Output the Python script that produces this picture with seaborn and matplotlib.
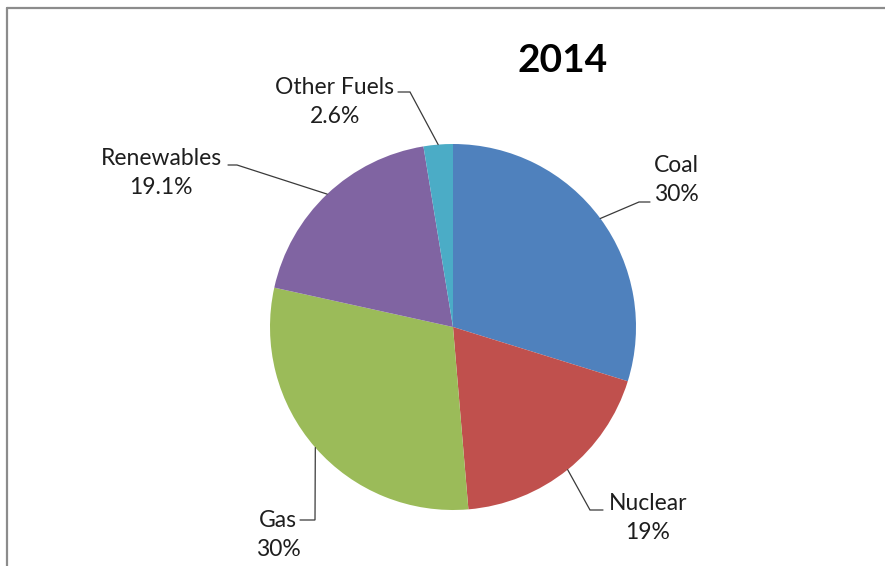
import matplotlib
matplotlib.use('Agg')
import numpy as np
import seaborn as sns
import matplotlib.pyplot as plt
from matplotlib.lines import Line2D

# dados do gráfico
fontes = ['Coal', 'Nuclear', 'Gas', 'Renewables', 'Other Fuels']
percentuais = [30, 19, 30, 19.1, 2.6]
rotulos_pct = ['30%', '19%', '30%', '19.1%', '2.6%']
cores = ['#4F81BD', '#C0504D', '#9BBB59', '#8064A2', '#4BACC6']
titulo = '2014'

# layout em pixels (centro do texto, ponta do traço horizontal, cotovelo)
texto_px = [(676, 180), (648, 518), (278, 535), (161, 173), (335, 102)]
inicio_px = [(650, 202), (603, 510), (300, 520), (228, 165), (398, 92)]
cotovelo_px = [(639, 202), (590, 510), (315, 520), (237, 165), (410, 92)]

sns.set_theme(style='white')
plt.rcParams['font.family'] = ['Lato', 'DejaVu Sans']

W, H = 885, 566
CX, CY, R = 453, 327, 183

fig = plt.figure(figsize=(W / 100, H / 100), dpi=100)
ax = fig.add_axes([0, 0, 1, 1])

wedges, _ = ax.pie(percentuais, colors=sns.color_palette(cores), startangle=90,
                   counterclock=False, radius=1, wedgeprops=dict(linewidth=0))

ax.set_xlim(-CX / R, (W - CX) / R)
ax.set_ylim(-(H - CY) / R, CY / R)
ax.set_aspect('auto')
ax.axis('off')


def px(p):
    return ((p[0] - CX) / R, (CY - p[1]) / R)


# rótulos com linhas de chamada
for w, nome, pct, t, s, c in zip(wedges, fontes, rotulos_pct, texto_px, inicio_px, cotovelo_px):
    ang = np.deg2rad((w.theta1 + w.theta2) / 2)
    ancora = (np.cos(ang), np.sin(ang))
    p1, p2 = px(s), px(c)
    ax.plot([p1[0], p2[0], ancora[0]], [p1[1], p2[1], ancora[1]],
            color='#3a3a3a', lw=0.9, solid_joinstyle='miter')
    tx, ty = px(t)
    ax.text(tx, ty, f'{nome}\n{pct}', ha='center', va='center',
            fontsize=16.5, color='#1e1e1e', linespacing=1.5)

ax.text(*px((563, 60)), titulo, ha='center', va='center',
        fontsize=28, fontweight='bold', color='black')

# moldura (apenas topo e esquerda visíveis)
fig.add_artist(Line2D([7 / W, 1], [1 - 8 / H, 1 - 8 / H], color='#8c8c8c', lw=1.6,
                      transform=fig.transFigure))
fig.add_artist(Line2D([7 / W, 7 / W], [0, 1 - 8 / H], color='#8c8c8c', lw=1.6,
                      transform=fig.transFigure))

fig.savefig('out.png', dpi=100, facecolor='white')
